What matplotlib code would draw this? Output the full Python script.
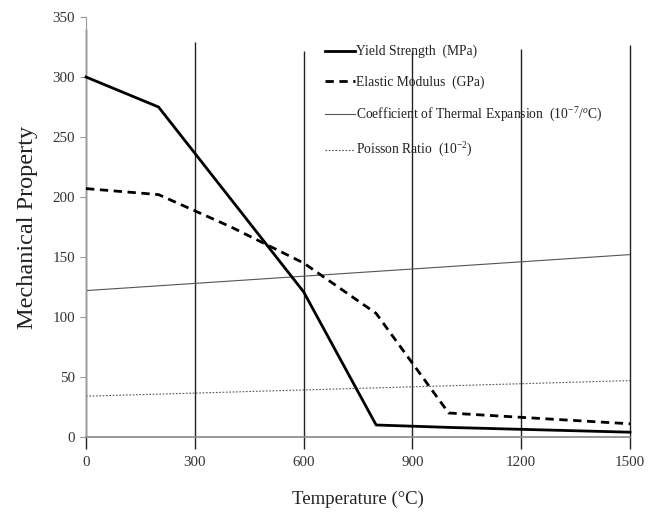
import matplotlib
matplotlib.use('Agg')
import matplotlib.pyplot as plt

plt.rcParams['font.family'] = ['Liberation Serif', 'DejaVu Serif']
plt.rcParams['mathtext.fontset'] = 'custom'
plt.rcParams['mathtext.rm'] = 'Liberation Serif'
plt.rcParams['mathtext.it'] = 'Liberation Serif:italic'

# data
yield_t = [0, 200, 600, 800, 1000, 1500]
yield_v = [300, 275, 121, 10, 8, 4]

modulus_t = [0, 200, 400, 600, 800, 1000, 1500]
modulus_v = [207, 202, 175, 145, 103, 20, 11]

cte_t = [0, 1500]
cte_v = [122, 152]

poisson_t = [0, 1500]
poisson_v = [34, 47]

x_ticks = [0, 300, 600, 900, 1200, 1500]
y_ticks = [0, 50, 100, 150, 200, 250, 300, 350]
# the drop lines at each x tick stop at different heights
drop_tops = [340, 329, 322, 322, 323, 327]

fig = plt.figure(figsize=(6.49, 5.16), dpi=100)
ax = fig.add_axes([86 / 649, 1 - 437 / 516, 544 / 649, 420 / 516])

ax.set_xlim(0, 1500)
ax.set_ylim(0, 350)

# vertical lines at x ticks, running a bit below the axis
ax.vlines(x_ticks, -10, drop_tops, colors='#222222', linewidth=1.0,
          clip_on=False, zorder=1)

ax.plot(yield_t, yield_v, color='black', linewidth=2.0,
        label='Yield Strength  (MPa)', zorder=3, clip_on=False)
ax.plot(modulus_t, modulus_v, color='black', linewidth=2.0,
        linestyle=(0, (3, 2)), label='Elastic Modulus  (GPa)', zorder=3,
        clip_on=False)
ax.plot(cte_t, cte_v, color='#555555', linewidth=0.8,
        label='Coefficient of Thermal Expansion  (10$^{-7}$/$^{o}$C)', zorder=2)
ax.plot(poisson_t, poisson_v, color='#555555', linewidth=0.8,
        linestyle=(0, (1.5, 1.5)), label='Poisson Ratio  (10$^{-2}$)', zorder=2)

for s in ['top', 'right']:
    ax.spines[s].set_visible(False)
ax.spines['left'].set_color('#999999')
ax.spines['bottom'].set_color('#888888')
ax.spines['bottom'].set_linewidth(1.2)

ax.set_xticks(x_ticks)
ax.set_yticks(y_ticks)
ax.tick_params(axis='x', length=0, pad=14, labelsize=10.8, colors='#333333')
ax.tick_params(axis='y', length=4, width=0.8, color='#999999', pad=4,
               labelsize=10.8, labelcolor='#333333')

ax.set_xlabel('Temperature (\u00b0C)', fontsize=13.5, color='#222222', labelpad=15)
ax.set_ylabel('Mechanical Property', fontsize=17.5, color='#222222', labelpad=10)

leg = ax.legend(loc='upper left', bbox_to_anchor=(325 / 649, 1 - 45 / 516),
                bbox_transform=fig.transFigure, frameon=False, fontsize=9.8,
                handlelength=2.2, handletextpad=0.1, labelspacing=1.25,
                borderpad=0, borderaxespad=0)
for t in leg.get_texts():
    t.set_color('#222222')

fig.savefig('out.png', dpi=100)
